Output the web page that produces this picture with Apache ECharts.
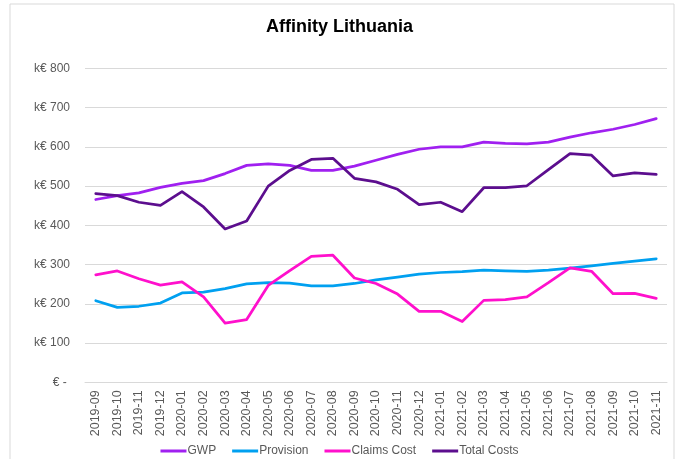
<!DOCTYPE html>
<html>
<head>
<meta charset="utf-8">
<script src="https://cdn.jsdelivr.net/npm/echarts@6/dist/echarts.min.js"></script>
<style>
html,body{margin:0;padding:0;background:#fff;}
#c{width:679px;height:459px;}
</style>
</head>
<body>
<div id="c"></div>
<script>
const categories = ['2019-09','2019-10','2019-11','2019-12','2020-01','2020-02','2020-03','2020-04','2020-05','2020-06','2020-07','2020-08','2020-09','2020-10','2020-11','2020-12','2021-01','2021-02','2021-03','2021-04','2021-05','2021-06','2021-07','2021-08','2021-09','2021-10','2021-11'];
const gwp = [466,476,483,497,507,514,532,553,557,553,540,540,551,566,581,594,600,600,612,609,608,612,625,636,645,657,672];
const provision = [208,191,194,202,228,230,239,251,254,253,246,246,252,261,268,276,280,282,286,284,283,286,291,297,303,309,315];
const claimsCost = [274,284,264,248,256,218,151,160,247,285,321,324,266,252,225,181,181,155,209,211,218,254,292,283,226,227,214];
const totalCosts = [481,476,459,451,486,447,391,411,500,540,568,571,520,511,492,453,459,435,496,496,501,542,583,579,526,534,530];
const yTicks = [0,100,200,300,400,500,600,700,800];

const chart = echarts.init(document.getElementById('c'), null, {renderer:'canvas'});
const font = 'Liberation Sans, Arial, sans-serif';
function line(name, data, color){
  return {name, type:'line', data, symbol:'none', smooth:false,
    lineStyle:{color, width:2.75, cap:'round', join:'round'}, itemStyle:{color}};
}
chart.setOption({
  animation:false,
  graphic:[{type:'rect', shape:{x:10,y:4,width:664,height:470}, style:{fill:'none', stroke:'#d9d9d9', lineWidth:1}, silent:true}],
  title:{text:'Affinity Lithuania', left:'center', top:13,
    textStyle:{fontFamily:font, fontSize:18, fontWeight:'bold', color:'#000'}},
  grid:{left:85, right:12, top:68.4, bottom:76.6, containLabel:false},
  legend:{bottom:2, left:'center', padding:0, itemWidth:26, itemHeight:3, itemGap:16,
    icon:'rect',
    textStyle:{fontFamily:font, fontSize:12, color:'#595959', padding:[0,0,0,-4]},
    data:['GWP','Provision','Claims Cost','Total Costs']},
  xAxis:{type:'category', data:categories, boundaryGap:true,
    axisLine:{lineStyle:{color:'#d9d9d9', width:1}}, axisTick:{show:false},
    axisLabel:{rotate:90, interval:0, fontFamily:font, fontSize:12.5, color:'#595959', margin:8}},
  yAxis:{type:'value', min:yTicks[0], max:yTicks[yTicks.length-1], interval:100,
    axisLine:{show:false}, axisTick:{show:false},
    splitLine:{lineStyle:{color:'#d9d9d9', width:1}},
    axisLabel:{fontFamily:font, fontSize:12, color:'#595959', margin:15,
      formatter:v => v===0 ? '€ - ' : 'k€ ' + v}},
  series:[
    line('GWP', gwp, '#A020F0'),
    line('Provision', provision, '#00A0F0'),
    line('Claims Cost', claimsCost, '#FF10CC'),
    line('Total Costs', totalCosts, '#5C0E8E')
  ]
});
</script>
</body>
</html>
